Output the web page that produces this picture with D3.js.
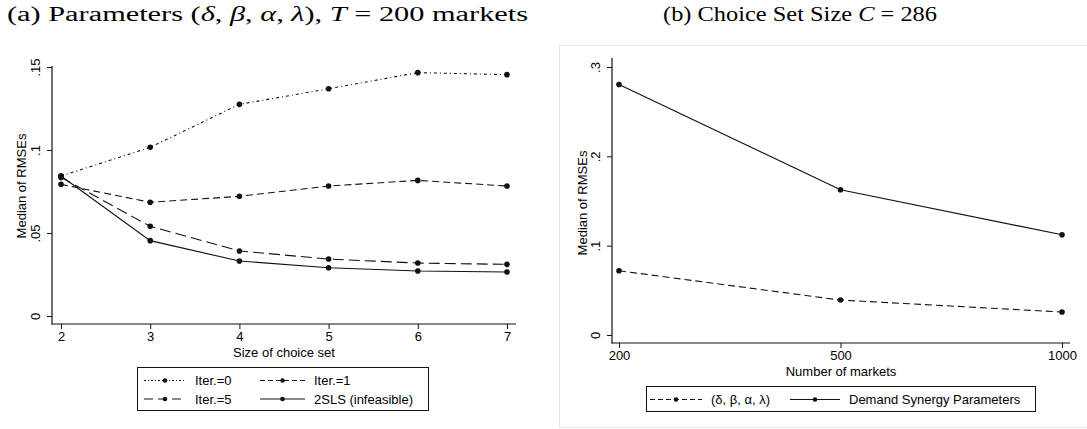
<!DOCTYPE html>
<html>
<head>
<meta charset="utf-8">
<title>Median of RMSEs</title>
<script src="https://d3js.org/d3.v7.min.js"></script>
<style>
    body { margin: 0; background: #fff; }
    svg { display: block; }
    .tick text, .lbl { font-family: "Liberation Sans", Arial, sans-serif; font-size: 13px; fill: #000; }
    .ttl { font-family: "Liberation Serif", "DejaVu Serif", serif; font-size: 20px; fill: #000; }
</style>
</head>
<body>
<script>
// panel (a): size of choice set
var choiceSizes = [2, 3, 4, 5, 6, 7];
var iter0 = [0.0843, 0.1016, 0.1275, 0.1369, 0.1466, 0.1454];
var iter1 = [0.0793, 0.0685, 0.0721, 0.0783, 0.0817, 0.0783];
var iter5 = [0.0835, 0.0540, 0.0392, 0.0343, 0.0319, 0.0311];
var tsls  = [0.0843, 0.0454, 0.0331, 0.0291, 0.0271, 0.0265];
var yTicksA = [0, 0.05, 0.1, 0.15];
var yTickLabelsA = ["0", ".05", ".1", ".15"];

// panel (b): number of markets
var markets = ["200", "500", "1000"];
var paramsB  = [0.0719, 0.0391, 0.0257];
var synergyB = [0.2804, 0.1626, 0.1122];
var yTicksB = [0, 0.1, 0.2, 0.3];
var yTickLabelsB = ["0", ".1", ".2", ".3"];

var width = 1087, height = 429;
var ink = "#111";

var svg = d3.select("body").append("svg")
    .attr("width", width)
    .attr("height", height);

// ---------- titles ----------
var tA = svg.append("text").attr("class", "ttl").attr("x", 7).attr("y", 21)
    .attr("textLength", 521).attr("lengthAdjust", "spacingAndGlyphs");
tA.append("tspan").text("(a) Parameters (");
tA.append("tspan").attr("font-style", "italic").text("δ");
tA.append("tspan").text(", ");
tA.append("tspan").attr("font-style", "italic").text("β");
tA.append("tspan").text(", ");
tA.append("tspan").attr("font-style", "italic").text("α");
tA.append("tspan").text(", ");
tA.append("tspan").attr("font-style", "italic").text("λ");
tA.append("tspan").text("), ");
tA.append("tspan").attr("font-style", "italic").text("T");
tA.append("tspan").text(" = 200 markets");

var tB = svg.append("text").attr("class", "ttl").attr("x", 663).attr("y", 21)
    .attr("textLength", 274).attr("lengthAdjust", "spacingAndGlyphs");
tB.append("tspan").text("(b) Choice Set Size ");
tB.append("tspan").attr("font-style", "italic").text("C");
tB.append("tspan").text(" = 286");

// light frame around panel (b)
svg.append("rect")
    .attr("x", 559.5).attr("y", 45.5)
    .attr("width", 540).attr("height", 382)
    .attr("fill", "none").attr("stroke", "#e8e8e8").attr("stroke-width", 1);

// helper: rotated y tick labels like Stata
function yAxis(g, scale, ticks, labels) {
    g.call(d3.axisLeft(scale).tickValues(ticks)
            .tickFormat(function(d, i) { return labels[i]; })
            .tickSize(5).tickSizeOuter(0))
        .call(function(a) { a.select(".domain").remove(); });
    g.selectAll(".tick line").attr("stroke", ink);
    g.selectAll(".tick text")
        .attr("transform", "rotate(-90)")
        .attr("text-anchor", "middle")
        .attr("x", 0).attr("y", -12).attr("dy", 0);
}

function drawSeries(g, xs, ys, x, y, dash) {
    var pts = xs.map(function(d, i) { return [x(d), y(ys[i])]; });
    g.append("path")
        .attr("d", d3.line()(pts))
        .attr("fill", "none")
        .attr("stroke", ink)
        .attr("stroke-width", 1.1)
        .attr("stroke-dasharray", dash);
    g.selectAll(null).data(pts).enter().append("circle")
        .attr("cx", function(p) { return p[0]; })
        .attr("cy", function(p) { return p[1]; })
        .attr("r", 2.8)
        .attr("fill", ink);
}

function legendItem(g, x0, y0, len, dash, label) {
    g.append("line")
        .attr("x1", x0).attr("x2", x0 + len)
        .attr("y1", y0).attr("y2", y0)
        .attr("stroke", ink).attr("stroke-width", 1.1)
        .attr("stroke-dasharray", dash);
    g.append("circle").attr("cx", x0 + len / 2).attr("cy", y0).attr("r", 2.3).attr("fill", ink);
    g.append("text").attr("class", "lbl")
        .attr("x", x0 + len + 9).attr("y", y0 + 4.5)
        .text(label);
}

// ---------- panel (a) ----------
var xA = d3.scaleLinear().domain([2, 7]).range([61, 507]);
var yA = d3.scaleLinear().domain([0, 0.15]).range([316, 67]);
var gA = svg.append("g");

gA.append("line").attr("x1", 52).attr("x2", 52).attr("y1", 66).attr("y2", 324.5)
    .attr("stroke", ink).attr("stroke-width", 1.2);
gA.append("line").attr("x1", 51.5).attr("x2", 516).attr("y1", 324).attr("y2", 324)
    .attr("stroke", ink).attr("stroke-width", 1.2);

yAxis(gA.append("g").attr("transform", "translate(52,0)"), yA, yTicksA, yTickLabelsA);

var axA = gA.append("g").attr("transform", "translate(0,324)")
    .call(d3.axisBottom(xA).tickValues(choiceSizes).tickFormat(d3.format("d"))
        .tickSize(5).tickSizeOuter(0).tickPadding(3));
axA.select(".domain").remove();
axA.selectAll(".tick line").attr("stroke", ink);

gA.append("text").attr("class", "lbl").attr("text-anchor", "middle")
    .attr("x", 284).attr("y", 357).text("Size of choice set");
gA.append("text").attr("class", "lbl").attr("text-anchor", "middle")
    .attr("transform", "translate(26,186) rotate(-90)")
    .text("Median of RMSEs");

drawSeries(gA, choiceSizes, iter0, xA, yA, "3,3,1,3");
drawSeries(gA, choiceSizes, iter1, xA, yA, "7,4");
drawSeries(gA, choiceSizes, iter5, xA, yA, "11,5");
drawSeries(gA, choiceSizes, tsls, xA, yA, null);

var legA = gA.append("g");
legA.append("rect").attr("x", 137.5).attr("y", 367.5).attr("width", 291).attr("height", 43)
    .attr("fill", "#fff").attr("stroke", ink).attr("stroke-width", 1);
legendItem(legA, 144, 380.5, 42, "2,2,1,2", "Iter.=0");
legendItem(legA, 260, 380.5, 45, "5,3", "Iter.=1");
legendItem(legA, 144, 399, 42, "9,5", "Iter.=5");
legendItem(legA, 260, 399, 45, null, "2SLS (infeasible)");

// ---------- panel (b) ----------
var xB = d3.scalePoint().domain(markets).range([619, 1062]);
var yB = d3.scaleLinear().domain([0, 0.3]).range([335, 67]);
var gB = svg.append("g");

gB.append("line").attr("x1", 612).attr("x2", 612).attr("y1", 58).attr("y2", 343.5)
    .attr("stroke", ink).attr("stroke-width", 1.2);
gB.append("line").attr("x1", 611.5).attr("x2", 1070).attr("y1", 343).attr("y2", 343)
    .attr("stroke", ink).attr("stroke-width", 1.2);

yAxis(gB.append("g").attr("transform", "translate(612,0)"), yB, yTicksB, yTickLabelsB);

var axB = gB.append("g").attr("transform", "translate(0,343)")
    .call(d3.axisBottom(xB).tickSize(5).tickSizeOuter(0).tickPadding(3));
axB.select(".domain").remove();
axB.selectAll(".tick line").attr("stroke", ink);

gB.append("text").attr("class", "lbl").attr("text-anchor", "middle")
    .attr("x", 841).attr("y", 376).text("Number of markets");
gB.append("text").attr("class", "lbl").attr("text-anchor", "middle")
    .attr("transform", "translate(587,203) rotate(-90)")
    .text("Median of RMSEs");

drawSeries(gB, markets, paramsB, xB, yB, "7,4");
drawSeries(gB, markets, synergyB, xB, yB, null);

var legB = gB.append("g");
legB.append("rect").attr("x", 646.5).attr("y", 386.5).attr("width", 389).attr("height", 25)
    .attr("fill", "#fff").attr("stroke", ink).attr("stroke-width", 1);
legendItem(legB, 650, 399.5, 52, "5,3", "(δ, β, α, λ)");
legendItem(legB, 790, 399.5, 50, null, "Demand Synergy Parameters");
</script>
</body>
</html>
